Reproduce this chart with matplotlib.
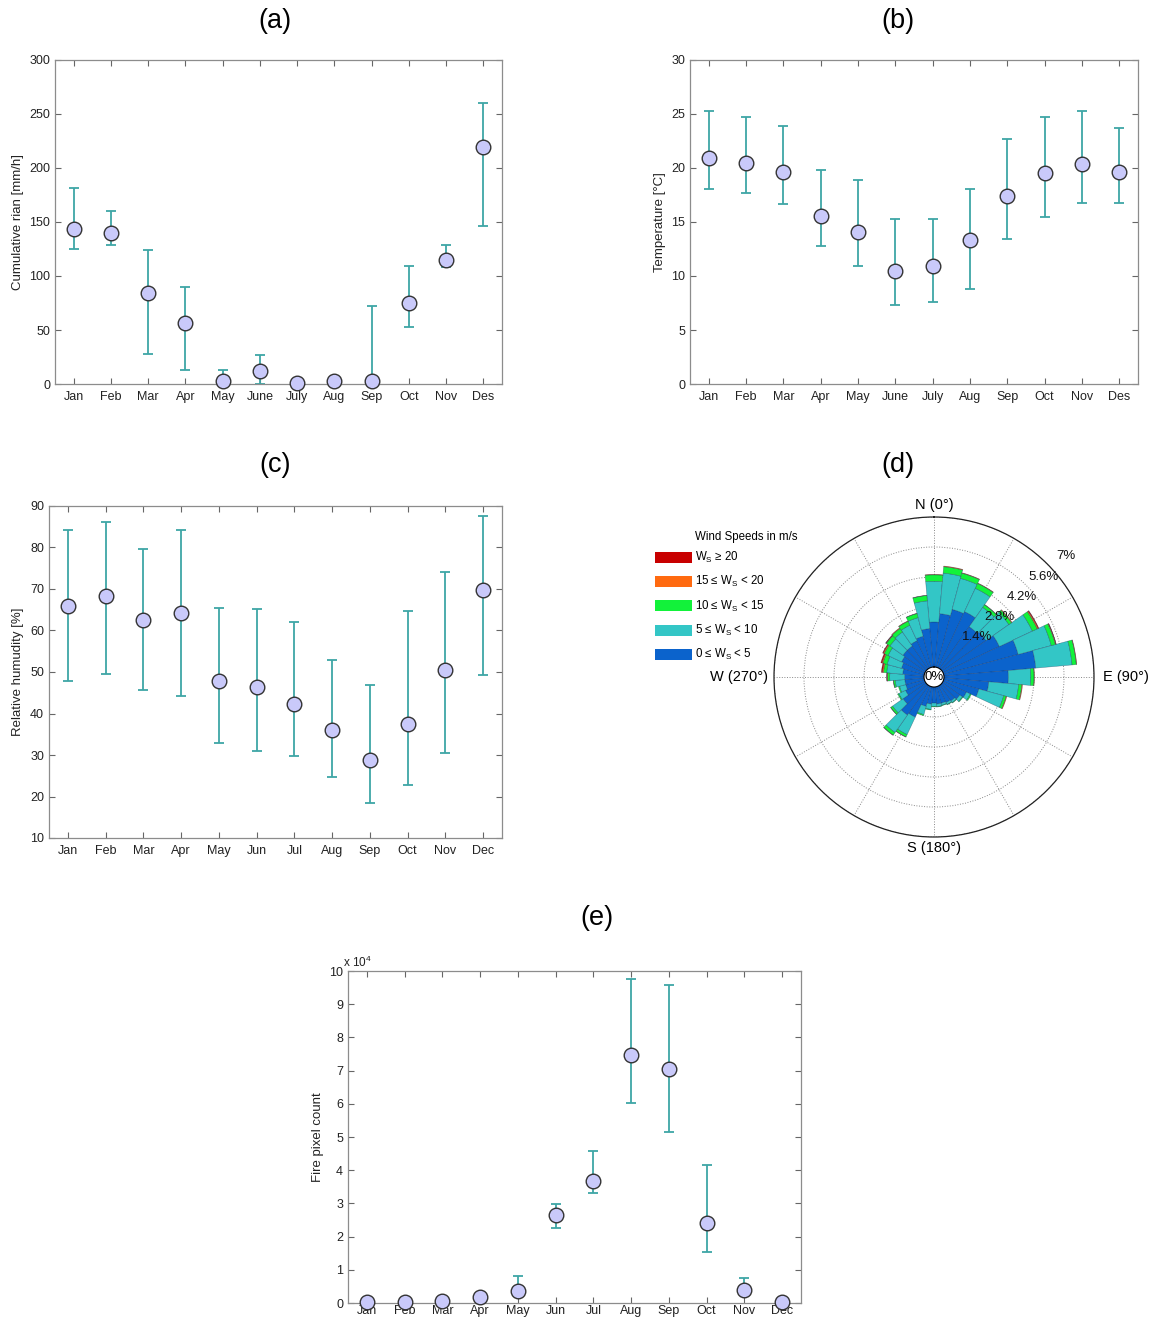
import numpy as np
import matplotlib
matplotlib.use('Agg')
import matplotlib.pyplot as plt
from matplotlib.patches import Patch
from matplotlib.ticker import FuncFormatter

plt.rcParams['font.family'] = ['Liberation Sans', 'DejaVu Sans']
plt.rcParams['mathtext.fontset'] = 'custom'
plt.rcParams['mathtext.rm'] = 'Liberation Sans'
plt.rcParams['mathtext.it'] = 'Liberation Sans'

# ---- data ----
months_a = ['Jan', 'Feb', 'Mar', 'Apr', 'May', 'June', 'July', 'Aug', 'Sep', 'Oct', 'Nov', 'Des']
months_c = ['Jan', 'Feb', 'Mar', 'Apr', 'May', 'Jun', 'Jul', 'Aug', 'Sep', 'Oct', 'Nov', 'Dec']

rain_mean = [143.7, 139.4, 83.9, 56.4, 3.1, 12.3, 0.9, 3.1, 2.5, 75.2, 114.4, 219.9]
rain_hi = [181.9, 160.0, 124.0, 89.4, 13.3, 27.1, 1.5, 4.0, 72.2, 108.8, 128.6, 260.2]
rain_lo = [124.9, 128.6, 27.4, 12.6, 0.0, 0.0, 0.0, 1.0, 0.0, 52.7, 108.0, 145.9]

temp_mean = [20.97, 20.45, 19.6, 15.55, 14.05, 10.45, 10.96, 13.3, 17.43, 19.5, 20.33, 19.59]
temp_hi = [25.3, 24.7, 23.9, 19.8, 18.9, 15.3, 15.3, 18.05, 22.67, 24.7, 25.28, 23.7]
temp_lo = [18.1, 17.7, 16.7, 12.75, 10.9, 7.33, 7.55, 8.84, 13.43, 15.46, 16.72, 16.72]

rh_mean = [65.9, 68.3, 62.6, 64.25, 47.8, 46.3, 42.3, 36.1, 28.7, 37.45, 50.45, 69.8]
rh_hi = [84.2, 86.2, 79.6, 84.1, 65.5, 65.1, 62.0, 53.0, 46.9, 64.6, 74.0, 87.6]
rh_lo = [47.9, 49.6, 45.6, 44.2, 32.8, 30.9, 29.7, 24.7, 18.4, 22.7, 30.5, 49.3]

fire_mean = [200, 200, 700, 1800, 3500, 26600, 36700, 74600, 70400, 24100, 3800, 400]
fire_hi = [200, 200, 700, 1800, 8000, 29900, 45800, 97600, 95800, 41500, 7500, 400]
fire_lo = [200, 200, 700, 1800, 3000, 22700, 33000, 60300, 51600, 15400, 3300, 400]

wind_dir = np.arange(0, 360, 10)
ws_0_5 = [2.1, 2.5, 2.8, 2.9, 2.4, 2.5, 2.9, 3.6, 4.3, 3.0, 2.1, 1.7, 1.2, 1.0, 0.9, 0.85, 0.8, 0.8,
          0.75, 0.8, 0.95, 1.6, 1.7, 1.3, 1.0, 0.9, 0.9, 0.9, 1.0, 1.1, 1.2, 1.3, 1.3, 1.4, 1.5, 1.8]
ws_5_10 = [1.9, 1.9, 1.5, 1.2, 1.1, 1.3, 1.7, 1.6, 1.7, 1.05, 1.4, 1.2, 0.2, 0.15, 0.1, 0.1, 0.1, 0.12,
           0.15, 0.25, 0.4, 0.9, 1.0, 0.6, 0.35, 0.3, 0.45, 0.7, 0.75, 0.7, 0.7, 0.75, 0.8, 0.8, 0.9, 1.3]
ws_10_15 = [0.3, 0.3, 0.25, 0.25, 0.15, 0.15, 0.25, 0.2, 0.2, 0.15, 0.15, 0.12, 0.05, 0.03, 0.02, 0.02, 0.02, 0.02,
            0.03, 0.03, 0.05, 0.12, 0.15, 0.1, 0.05, 0.05, 0.08, 0.1, 0.15, 0.2, 0.2, 0.2, 0.2, 0.2, 0.2, 0.25]
ws_15_20 = [0.02, 0.03, 0.02, 0.02, 0.01, 0.03, 0.05, 0.03, 0.02, 0.02, 0.03, 0.03, 0, 0, 0, 0, 0, 0,
            0, 0, 0, 0.01, 0.01, 0.01, 0, 0, 0.01, 0.03, 0.05, 0.05, 0.05, 0.03, 0.03, 0.02, 0.01, 0.01]
ws_20p = [0, 0, 0, 0, 0, 0, 0.03, 0.01, 0, 0, 0, 0, 0, 0, 0, 0, 0, 0,
          0, 0, 0, 0, 0, 0, 0, 0, 0, 0.01, 0.05, 0.05, 0.03, 0.01, 0, 0, 0, 0]
ws_labels = ['W$_\\mathrm{S}$ ≥ 20', '15 ≤ W$_\\mathrm{S}$ < 20', '10 ≤ W$_\\mathrm{S}$ < 15',
             '5 ≤ W$_\\mathrm{S}$ < 10', '0 ≤ W$_\\mathrm{S}$ < 5']
ring_levels = [1.4, 2.8, 4.2, 5.6, 7]

# ---- style ----
ECOL = '#3ea6a6'
MFACE = '#c9c9fa'
W, H = 1155, 1319
fig = plt.figure(figsize=(W / 100, H / 100), dpi=100)


def box(l, t, r, b):
    return [l / W, 1 - b / H, (r - l) / W, (b - t) / H]


def err_panel(rect, labels, mean, hi, lo, ylim, yticks, ylabel, lab_x, xpad=5):
    ax = fig.add_axes(rect)
    x = np.arange(1, 13)
    mean = np.asarray(mean, float)
    yerr = [mean - np.asarray(lo, float), np.asarray(hi, float) - mean]
    ax.errorbar(x, mean, yerr=yerr, fmt='none', ecolor=ECOL, elinewidth=1.3,
                capsize=3.5, capthick=1.3, zorder=2)
    ax.plot(x, mean, 'o', ms=10.5, mfc=MFACE, mec='#333333', mew=1.0, zorder=3, clip_on=False)
    ax.set_xlim(0.5, 12.5)
    ax.set_ylim(*ylim)
    ax.set_xticks(x)
    ax.set_xticklabels(labels)
    ax.set_yticks(yticks)
    ax.tick_params(direction='in', top=True, right=True, length=4, width=0.8,
                   color='#666666', labelsize=9, labelcolor='#222222')
    ax.tick_params(axis='x', pad=xpad)
    for s in ax.spines.values():
        s.set_color('#8c8c8c')
        s.set_linewidth(0.9)
    ax.set_ylabel(ylabel, fontsize=9.5, color='#222222')
    ax.yaxis.set_label_coords(lab_x, 0.5)
    return ax


err_panel(box(55, 60, 502, 384), months_a, rain_mean, rain_hi, rain_lo,
          (0, 300), range(0, 301, 50), 'Cumulative rian [mm/h]', -0.07)
err_panel(box(690, 60, 1138, 384), months_a, temp_mean, temp_hi, temp_lo,
          (0, 30), range(0, 31, 5), 'Temperature [°C]', -0.053)
err_panel(box(49, 506, 502, 838), months_c, rh_mean, rh_hi, rh_lo,
          (10, 90), range(10, 91, 10), 'Relative humudity [%]', -0.055)
axe = err_panel(box(348, 971, 801, 1303), months_c, fire_mean, fire_hi, fire_lo,
                (0, 100000), range(0, 100001, 10000), 'Fire pixel count', -0.053, xpad=1.5)
axe.yaxis.set_major_formatter(FuncFormatter(lambda v, p: '%d' % round(v / 1e4)))
fig.text(343 / W, 1 - 962 / H, 'x 10$^{4}$', fontsize=8.5, color='#222222', va='center', ha='left')

# ---- wind rose ----
axp = fig.add_axes(box(774, 517, 1094, 837), projection='polar')
axp.set_theta_zero_location('N')
axp.set_theta_direction(-1)
th = np.deg2rad(wind_dir)
wd = np.deg2rad(10)
stack = [ws_0_5, ws_5_10, ws_10_15, ws_15_20, ws_20p]
cols = ['#0b63cc', '#33c6c6', '#12f23a', '#ff6a10', '#c80000']
bottom = np.zeros(len(wind_dir))
for vals, c in zip(stack, cols):
    v = np.asarray(vals, float)
    m = v > 0
    axp.bar(th[m], v[m], width=wd, bottom=bottom[m], color=c,
            edgecolor=(0.05, 0.15, 0.3, 0.45), linewidth=0.4, zorder=2)
    bottom = bottom + v
axp.set_ylim(0, 7)
axp.set_rorigin(-10 / 21.4)
axp.set_xticks(np.deg2rad(np.arange(0, 360, 30)))
axp.set_xticklabels([])
axp.set_yticks(ring_levels)
axp.set_yticklabels([])
axp.grid(True, ls=':', color='#888888', lw=0.7)
axp.spines['polar'].set_color('#222222')
axp.spines['polar'].set_linewidth(0.9)
if 'inner' in axp.spines:
    axp.spines['inner'].set_visible(False)
for lv in ring_levels:
    axp.text(np.deg2rad(47.5), lv + 0.87, ('%g%%' % lv), fontsize=9.5, ha='center',
             va='center', color='#111111', zorder=5, clip_on=False)
axp.text(0.5, 0.5, '0%', transform=axp.transAxes, ha='center', va='center', fontsize=9.5, zorder=5)
axp.text(0.5, 1.037, 'N (0°)', transform=axp.transAxes, ha='center', va='center', fontsize=10.5)
axp.text(0.5, -0.035, 'S (180°)', transform=axp.transAxes, ha='center', va='center', fontsize=10.5)
axp.text(1.028, 0.5, 'E (90°)', transform=axp.transAxes, ha='left', va='center', fontsize=10.5)
axp.text(-0.019, 0.5, 'W (270°)', transform=axp.transAxes, ha='right', va='center', fontsize=10.5)

handles = [Patch(facecolor=c, edgecolor='none') for c in cols[::-1]]
fig.legend(handles, ws_labels, loc='upper left', bbox_to_anchor=(655 / W, 1 - 550 / H),
           frameon=False, fontsize=8.3, handlelength=3.2, handleheight=1.1,
           handletextpad=0.3, labelspacing=0.8, borderpad=0, borderaxespad=0)
fig.text(695 / W, 1 - 537 / H, 'Wind Speeds in m/s', fontsize=8.3, va='center', ha='left')

# ---- panel letters ----
for lab, (px, py) in zip(['(a)', '(b)', '(c)', '(d)', '(e)'],
                         [(275, 21), (898, 21), (275, 465), (898, 465), (597, 918)]):
    fig.text(px / W, 1 - py / H, lab, fontsize=19.5, ha='center', va='center')

fig.savefig('out.png', dpi=100)
